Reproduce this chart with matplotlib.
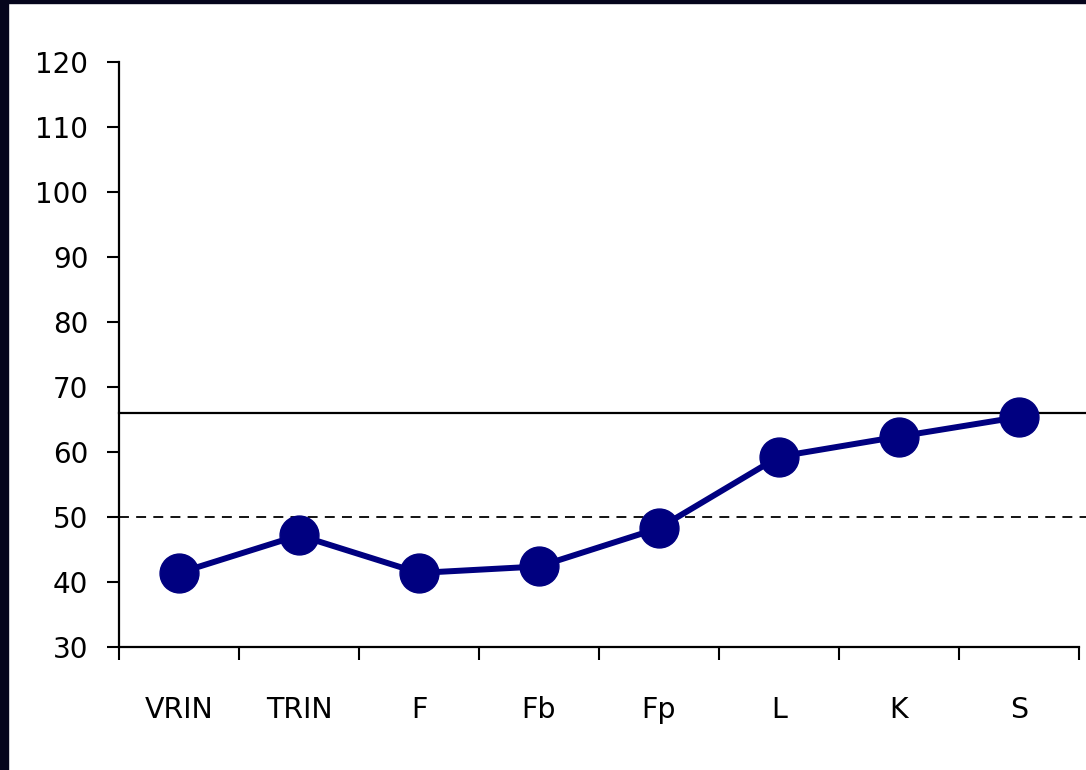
import matplotlib.pyplot as plt
import matplotlib.patches as mpatches
import numpy as np

# scale labels and mean T scores
scales = ['VRIN', 'TRIN', 'F', 'Fb', 'Fp', 'L', 'K', 'S']
scores = [41.4, 47.2, 41.4, 42.4, 48.3, 59.3, 62.4, 65.4]
cutoff_high = 66
cutoff_mean = 50
y_ticks = list(range(30, 121, 10))

fig = plt.figure(figsize=(10.86, 7.70), dpi=100)
fig.patch.set_facecolor('white')

# dark frame on left and top edges
frame_col = '#05051c'
fig.patches.append(mpatches.Rectangle((0, 0), 8 / 1086, 1, transform=fig.transFigure,
                                      color=frame_col, zorder=0))
fig.patches.append(mpatches.Rectangle((0, 1 - 3 / 770), 1, 3 / 770, transform=fig.transFigure,
                                      color=frame_col, zorder=0))

ax = fig.add_axes([119 / 1086, 1 - 647 / 770, 960 / 1086, (647 - 62.3) / 770])

x = np.arange(len(scales))
ax.plot(x, scores, color='#000080', lw=4.3, marker='o', markersize=28, zorder=3,
        clip_on=False)

# reference lines
ax.axhline(cutoff_high, xmin=0, xmax=1.0075, color='black', lw=1.6, clip_on=False)
ax.axhline(cutoff_mean, xmin=0, xmax=1.0075, color='black', lw=1.3,
           linestyle=(0, (5.5, 4)), clip_on=False)

ax.set_xlim(-0.5, len(scales) - 0.5)
ax.set_ylim(30, 120)
ax.set_yticks(y_ticks)
ax.set_yticklabels([str(v) for v in y_ticks], fontsize=20)
ax.tick_params(axis='y', direction='out', length=9, width=1.5, pad=13)

ax.set_xticks(x)
ax.set_xticklabels(scales, fontsize=20.5)
ax.set_xticks(np.arange(-0.5, len(scales)), minor=True)
ax.tick_params(axis='x', which='major', length=0, pad=35)
ax.tick_params(axis='x', which='minor', direction='out', length=9.5, width=1.5)

for side in ['top', 'right']:
    ax.spines[side].set_visible(False)
for side in ['left', 'bottom']:
    ax.spines[side].set_linewidth(1.6)

fig.savefig('out.png', dpi=100)
